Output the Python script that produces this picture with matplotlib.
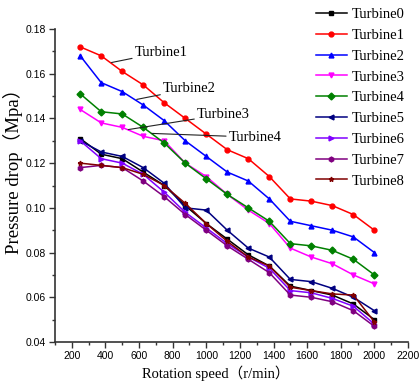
import matplotlib
matplotlib.use("Agg")
import matplotlib.pyplot as plt
from matplotlib.ticker import MultipleLocator, FormatStrFormatter

# Pressure drop of each turbine vs. rotation speed
speed = [250, 375, 500, 625, 750, 875, 1000, 1125, 1250, 1375, 1500, 1625, 1750, 1875, 2000]

turbine0 = [0.131, 0.124, 0.122, 0.116, 0.110, 0.101, 0.093, 0.086, 0.079, 0.074, 0.065, 0.063, 0.061, 0.057, 0.050]
turbine1 = [0.172, 0.168, 0.161, 0.155, 0.147, 0.140, 0.133, 0.126, 0.122, 0.114, 0.104, 0.103, 0.101, 0.097, 0.090]
turbine2 = [0.168, 0.156, 0.152, 0.146, 0.139, 0.130, 0.123, 0.116, 0.112, 0.104, 0.094, 0.092, 0.090, 0.087, 0.080]
turbine3 = [0.144, 0.138, 0.136, 0.132, 0.130, 0.120, 0.114, 0.106, 0.099, 0.093, 0.082, 0.078, 0.075, 0.070, 0.066]
turbine4 = [0.151, 0.143, 0.142, 0.136, 0.129, 0.120, 0.113, 0.106, 0.100, 0.094, 0.084, 0.083, 0.081, 0.077, 0.070]
turbine5 = [0.130, 0.125, 0.123, 0.118, 0.111, 0.100, 0.099, 0.090, 0.082, 0.078, 0.068, 0.067, 0.064, 0.060, 0.054]
turbine6 = [0.130, 0.122, 0.120, 0.115, 0.107, 0.098, 0.091, 0.084, 0.078, 0.073, 0.063, 0.062, 0.0595, 0.056, 0.048]
turbine7 = [0.118, 0.119, 0.118, 0.112, 0.105, 0.097, 0.090, 0.083, 0.077, 0.071, 0.061, 0.060, 0.058, 0.054, 0.047]
turbine8 = [0.120, 0.119, 0.118, 0.115, 0.110, 0.102, 0.093, 0.085, 0.078, 0.074, 0.0645, 0.063, 0.0615, 0.061, 0.049]

names = ["Turbine0", "Turbine1", "Turbine2", "Turbine3", "Turbine4",
         "Turbine5", "Turbine6", "Turbine7", "Turbine8"]
series = [turbine0, turbine1, turbine2, turbine3, turbine4,
          turbine5, turbine6, turbine7, turbine8]
colors = ["#000000", "#ff0000", "#0000ff", "#ff00ff", "#008000",
          "#000080", "#8000ff", "#800080", "#800000"]
markers = ["s", "o", "^", "v", "D", "<", ">", "h", "*"]

serif = ["Liberation Serif", "Noto Sans CJK SC"]
plt.rcParams["font.family"] = ["Liberation Sans", "DejaVu Sans"]

fig = plt.figure(figsize=(4.19, 3.81), dpi=100)
ax = fig.add_axes([55 / 419, 1 - 342 / 381, 353 / 419, 313 / 381])

for name, vals, c, m in zip(names, series, colors, markers):
    ax.plot(speed, vals, color=c, marker=m, markersize=3.5, linewidth=1.1, label=name)

ax.set_xlim(100, 2200)
ax.set_ylim(0.04, 0.18)
ax.xaxis.set_major_locator(MultipleLocator(200))
ax.xaxis.set_minor_locator(MultipleLocator(100))
ax.yaxis.set_major_locator(MultipleLocator(0.02))
ax.yaxis.set_minor_locator(MultipleLocator(0.01))
ax.yaxis.set_major_formatter(FormatStrFormatter("%.2f"))

for side in ["top", "right"]:
    ax.spines[side].set_visible(False)
for side in ["left", "bottom"]:
    ax.spines[side].set_linewidth(1.2)
    ax.spines[side].set_color("#333333")
ax.tick_params(which="major", direction="out", length=4, width=1.0, labelsize=7.5, pad=2.5, color="#333333")
ax.tick_params(which="minor", direction="out", length=2.5, width=1.0, color="#333333")
ax.set_xticks(range(200, 2201, 200))

ax.set_xlabel("Rotation speed（r/min）", family=serif, fontsize=10.5)
ax.set_ylabel("Pressure drop（Mpa）", family=serif, fontsize=13.5)
ax.xaxis.set_label_coords(0.455, -0.075)
ax.yaxis.set_label_coords(-0.09, 0.56)

# callout labels pointing at the curves
callouts = [
    ("Turbine1", (436, 0.165), (575, 0.1695)),
    ("Turbine2", (586, 0.1485), (743, 0.1532)),
    ("Turbine3", (535, 0.135), (945, 0.1418)),
    ("Turbine4", (675, 0.1333), (1134, 0.1316)),
]
for text, xy, xytext in callouts:
    ax.annotate(text, xy=xy, xytext=xytext, family=serif, fontsize=10.5,
                ha="left", va="center",
                arrowprops=dict(arrowstyle="-", color="#222222", lw=0.8,
                                shrinkA=0, shrinkB=0))

fig.legend(loc="upper left", bbox_to_anchor=(316 / 419, 1 - 8 / 381),
           frameon=False, prop={"family": serif, "size": 10.5},
           handlelength=2.1, handletextpad=0.35, labelspacing=0.52,
           borderpad=0, borderaxespad=0)

fig.savefig("out.png", dpi=100)
